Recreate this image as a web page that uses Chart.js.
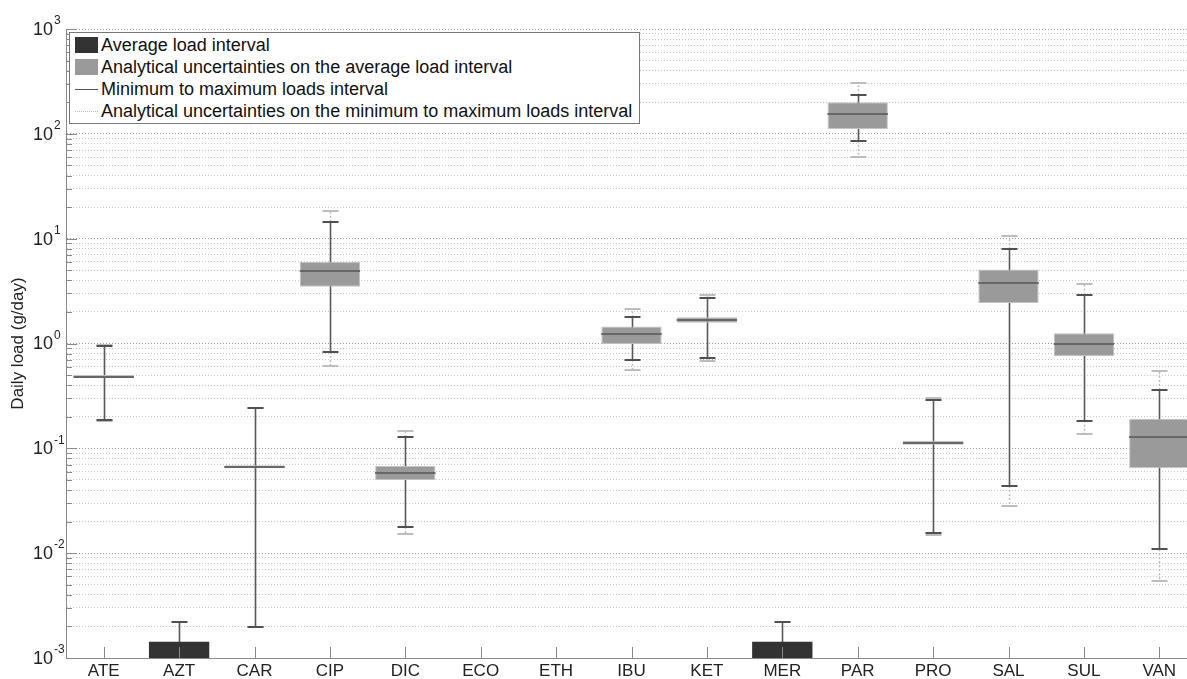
<!DOCTYPE html>
<html>
<head>
<meta charset="utf-8">
<script src="https://cdn.jsdelivr.net/npm/chart.js@4.4.1/dist/chart.umd.min.js"></script>
<style>
  html, body { margin: 0; padding: 0; background: #fff; overflow: hidden; }
  #wrap { position: absolute; left: 0; top: 0; width: 1197px; height: 679px; }
  #legend {
    position: absolute; left: 69px; top: 32px; width: 569px; height: 89px;
    border: 1px solid #777; background: #fff; padding-top: 1px;
    font-family: "Liberation Sans", Arial, sans-serif; font-size: 18px; color: #111;
  }
  #legend .row { height: 22px; display: flex; align-items: center; white-space: nowrap; }
  #legend .sym { width: 23px; margin-left: 5px; margin-right: 3px; flex: none; }
</style>
</head>
<body>
<div id="wrap">
  <canvas id="chart" width="1197" height="679"></canvas>
  <div id="legend">
    <div class="row"><span class="sym" style="height:16px;background:#333"></span>Average load interval</div>
    <div class="row"><span class="sym" style="height:16px;background:#9a9a9a"></span>Analytical uncertainties on the average load interval</div>
    <div class="row"><span class="sym" style="height:0;border-top:1.5px solid #555"></span>Minimum to maximum loads interval</div>
    <div class="row"><span class="sym" style="height:0;border-top:1px dotted #bbb"></span>Analytical uncertainties on the minimum to maximum loads interval</div>
  </div>
</div>
<script>
// compounds
const categories = ['ATE','AZT','CAR','CIP','DIC','ECO','ETH','IBU','KET','MER','PAR','PRO','SAL','SUL','VAN'];

// average load interval (dark boxes)
const avgLow  = [null, 0.0005, null, null, null, null, null, null, null, 0.0005, null, null, null, null, null];
const avgHigh = [null, 0.00143, null, null, null, null, null, null, null, 0.00143, null, null, null, null, null];

// analytical uncertainties on the average load (grey boxes) + middle line
const uncLow  = [0.468, null, 0.0646, 3.47, 0.0499, null, null, 0.99, 1.58, null, 111, 0.108, 2.44, 0.762, 0.0646];
const uncHigh = [0.50,  null, 0.069,  6.01, 0.0679, null, null, 1.45, 1.78, null, 200, 0.118, 5.07, 1.25,  0.191];
const avgMid  = [0.483, null, 0.0669, 4.93, 0.0586, null, null, 1.22, 1.68, null, 156, 0.113, 3.76, 1.0,   0.128];

// minimum to maximum loads
const minLoad = [0.185, null,    0.00199, 0.83, 0.0178, null, null, 0.70, 0.733, null,    85.8, 0.0155, 0.0438, 0.184, 0.0109];
const maxLoad = [0.955, 0.00219, 0.241,   14.5, 0.128,  null, null, 1.78, 2.71,  0.00219, 234,  0.290,  7.94,   2.93,  0.361];

// analytical uncertainties on min / max loads
const minUnc = [0.183, null, 0.00197, 0.61, 0.0152, null, null, 0.556, 0.682, null, 60.4, 0.0149, 0.0284, 0.138, 0.00547];
const maxUnc = [0.965, null, 0.244,   18.4, 0.147,  null, null, 2.12,  2.89,  null, 305,  0.300,  10.7,   3.68,  0.548];

const yExponents = [-3, -2, -1, 0, 1, 2, 3];

function pairs(lo, hi) {
  return lo.map((v, i) => (v == null || hi[i] == null) ? null : [v, hi[i]]);
}
function isMajor(v) {
  const l = Math.log10(v);
  return Math.abs(l - Math.round(l)) < 1e-9;
}

const whiskerPlugin = {
  id: 'whiskers',
  beforeDatasetsDraw(chart) {
    const {ctx, chartArea: a, scales: {x, y}} = chart;
    ctx.save();
    ctx.beginPath();
    ctx.rect(a.left, a.top, a.right - a.left, a.bottom - a.top);
    ctx.clip();
    categories.forEach((c, i) => {
      const cx = Math.round(x.getPixelForValue(i)) + 0.5;
      // light dotted extensions
      ctx.strokeStyle = '#bcbcbc';
      ctx.lineWidth = 1.5;
      ctx.setLineDash([2, 2]);
      if (maxUnc[i] != null && maxLoad[i] != null) {
        ctx.beginPath(); ctx.moveTo(cx, y.getPixelForValue(maxLoad[i])); ctx.lineTo(cx, y.getPixelForValue(maxUnc[i])); ctx.stroke();
      }
      if (minUnc[i] != null && minLoad[i] != null) {
        ctx.beginPath(); ctx.moveTo(cx, y.getPixelForValue(minLoad[i])); ctx.lineTo(cx, y.getPixelForValue(minUnc[i])); ctx.stroke();
      }
      ctx.setLineDash([]);
      ctx.strokeStyle = '#bdbdbd';
      ctx.lineWidth = 2;
      [maxUnc[i], minUnc[i]].forEach(v => {
        if (v == null) return;
        const py = Math.round(y.getPixelForValue(v));
        ctx.beginPath(); ctx.moveTo(cx - 8, py); ctx.lineTo(cx + 8, py); ctx.stroke();
      });
      // dark whisker
      const top = maxLoad[i];
      const bot = minLoad[i] != null ? minLoad[i] : (avgLow[i] != null ? avgLow[i] : null);
      if (top != null && bot != null) {
        ctx.strokeStyle = '#585858';
        ctx.lineWidth = 1.6;
        ctx.beginPath(); ctx.moveTo(cx, y.getPixelForValue(bot)); ctx.lineTo(cx, y.getPixelForValue(top)); ctx.stroke();
      }
      ctx.strokeStyle = '#505050';
      ctx.lineWidth = 2;
      [maxLoad[i], minLoad[i]].forEach(v => {
        if (v == null) return;
        const py = Math.round(y.getPixelForValue(v));
        ctx.beginPath(); ctx.moveTo(cx - 8, py); ctx.lineTo(cx + 8, py); ctx.stroke();
      });
    });
    ctx.restore();
  },
  afterDatasetsDraw(chart) {
    const {ctx, scales: {y}} = chart;
    const meta = chart.getDatasetMeta(1);
    ctx.save();
    ctx.strokeStyle = '#676767';
    ctx.lineWidth = 2;
    avgMid.forEach((v, i) => {
      if (v == null) return;
      const bar = meta.data[i];
      const half = bar.width / 2;
      const py = Math.round(y.getPixelForValue(v));
      ctx.beginPath(); ctx.moveTo(bar.x - half, py); ctx.lineTo(bar.x + half, py); ctx.stroke();
    });
    ctx.restore();
  },
  afterDraw(chart) {
    const {ctx, chartArea: a, scales: {x, y}} = chart;
    ctx.save();
    // inward tick marks
    ctx.strokeStyle = '#8a8a8a';
    ctx.lineWidth = 1;
    y.ticks.forEach(t => {
      const py = Math.round(y.getPixelForValue(t.value)) + 0.5;
      const len = isMajor(t.value) ? 11 : 6;
      ctx.beginPath(); ctx.moveTo(a.left, py); ctx.lineTo(a.left + len, py); ctx.stroke();
    });
    categories.forEach((c, i) => {
      const px = Math.round(x.getPixelForValue(i)) + 0.5;
      ctx.beginPath(); ctx.moveTo(px, a.bottom); ctx.lineTo(px, a.bottom - 11); ctx.stroke();
    });
    // power-of-ten labels
    ctx.fillStyle = '#222';
    ctx.textBaseline = 'middle';
    yExponents.forEach(e => {
      const py = y.getPixelForValue(Math.pow(10, e));
      ctx.font = '18px "Liberation Sans", Arial, sans-serif';
      ctx.textAlign = 'right';
      ctx.fillText('10', 53, py + 1);
      ctx.font = '12px "Liberation Sans", Arial, sans-serif';
      ctx.textAlign = 'left';
      ctx.fillText(String(e), 54, py - 8);
    });
    ctx.restore();
  }
};

new Chart(document.getElementById('chart'), {
  type: 'bar',
  data: {
    labels: categories,
    datasets: [
      {
        label: 'Average load interval',
        data: pairs(avgLow, avgHigh),
        backgroundColor: '#333333',
        borderWidth: 0,
        grouped: false,
        barPercentage: 0.8,
        categoryPercentage: 1
      },
      {
        label: 'Analytical uncertainties on the average load interval',
        data: pairs(uncLow, uncHigh),
        backgroundColor: '#9a9a9a',
        borderColor: '#c2c2c2',
        borderWidth: 1,
        borderSkipped: false,
        grouped: false,
        barPercentage: 0.8,
        categoryPercentage: 1
      }
    ]
  },
  options: {
    responsive: false,
    animation: false,
    devicePixelRatio: 1,
    layout: { padding: { top: 29, right: 0, left: 0, bottom: 0 } },
    plugins: { legend: { display: false }, tooltip: { enabled: false } },
    scales: {
      x: {
        grid: { display: false, drawTicks: false },
        border: { display: true, color: '#8a8a8a', width: 1 },
        ticks: {
          color: '#222',
          padding: 3,
          font: { family: '"Liberation Sans", Arial, sans-serif', size: 17 }
        },
        afterFit(s) { s.height = 21; }
      },
      y: {
        type: 'logarithmic',
        min: 0.001,
        max: 1000,
        afterBuildTicks(s) {
          const t = [];
          for (let e = -3; e <= 3; e++) {
            for (let m = 1; m <= 9; m++) {
              const v = m * Math.pow(10, e);
              if (v <= 1000 + 1e-9) t.push({ value: v, major: m === 1 });
            }
          }
          s.ticks = t;
        },
        ticks: { display: false },
        grid: {
          drawTicks: false,
          lineWidth: 1,
          color: c => (c.tick && isMajor(c.tick.value)) ? '#9c9c9c' : '#c6c6c6'
        },
        border: { display: true, color: '#8a8a8a', width: 1, dash: [1, 2] },
        title: {
          display: true,
          text: 'Daily load (g/day)',
          color: '#222',
          padding: { top: 8, bottom: 0 },
          font: { family: '"Liberation Sans", Arial, sans-serif', size: 17 }
        },
        afterFit(s) { s.width = 66; }
      }
    }
  },
  plugins: [whiskerPlugin]
});
</script>
</body>
</html>
